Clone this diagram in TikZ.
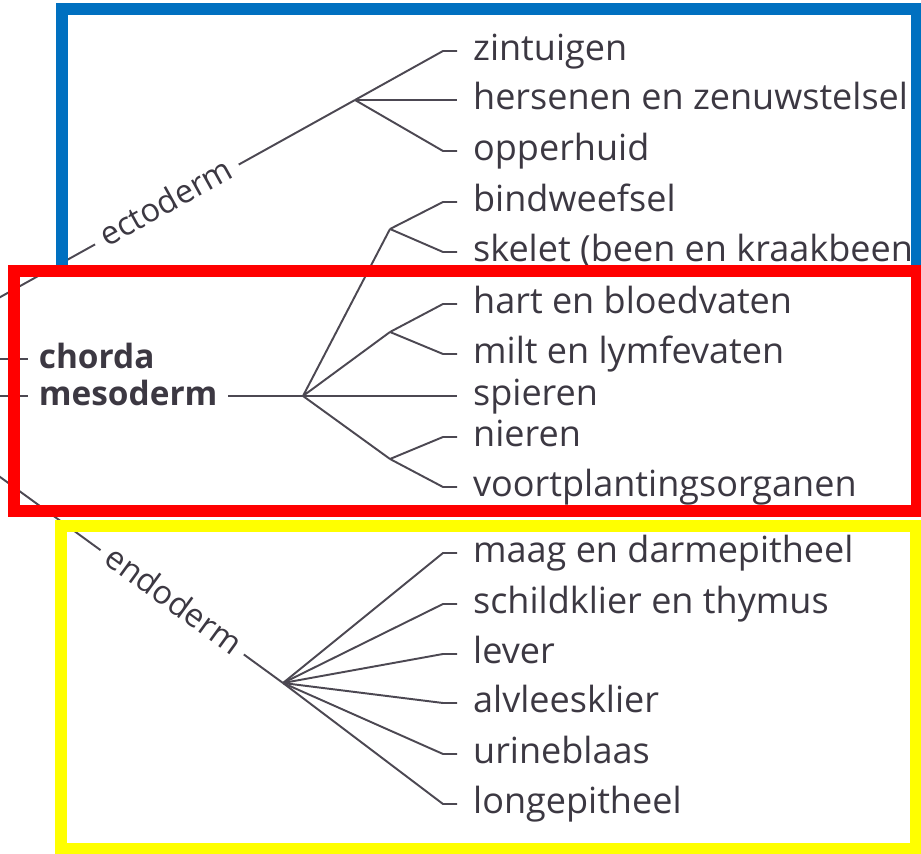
\documentclass[tikz,border=0pt]{standalone}
\usepackage{fontspec}
\setmainfont{Open Sans}
\definecolor{tak}{HTML}{4C4852}
\definecolor{inkt}{HTML}{3C3842}
\definecolor{blauw}{HTML}{0070C0}
\definecolor{rood}{HTML}{FF0000}
\definecolor{geel}{HTML}{FFFF00}
\tikzset{lf/.append style={anchor=west, inner xsep=9pt, inner ysep=0pt, text height=11pt, text depth=0pt, text=inkt, font=\fontsize{20.5}{24}\selectfont}}
\tikzset{vet/.append style={lf, inner xsep=6pt, text height=10.3pt, font=\fontsize{19}{23}\selectfont\bfseries}}
\tikzset{kiem/.append style={lf, anchor=center, inner xsep=5pt, text height=10pt, fill=white, font=\fontsize{18.5}{22}\selectfont}}
\tikzset{tk/.append style={draw=tak, line width=1.1pt}}
\tikzset{rand/.append style={line width=6.8pt}}

\begin{document}
\begin{tikzpicture}[x=0.02cm,y=-0.02cm]
                \useasboundingbox (0,0) rectangle (921,854);
                \clip (0,0) rectangle (921,854);
                % vertakkingspunten
                \coordinate (wortel) at (-140,375);
                \coordinate (chl) at (-20,359);
                \coordinate (mesl) at (-20,396);
                \coordinate (ect) at (355,100);
                \coordinate (mes) at (303,396);
                \coordinate (end) at (283,683);
                \coordinate (sk) at (390,229);
                \coordinate (hv) at (390,332);
                \coordinate (ni) at (390,459);
                % ectoderm
                \node[lf] (zin) at (457,51) {zintuigen};
                \node[lf] (her) at (457,100) {hersenen en zenuwstelsel};
                \node[lf] (opp) at (457,151) {opperhuid};
                % mesoderm
                \node[lf] (bin) at (457,202) {bindweefsel};
                \node[lf] (ske) at (457,252) {skelet (been en kraakbeen};
                \node[lf] (har) at (457,304) {hart en bloedvaten};
                \node[lf] (mil) at (457,354) {milt en lymfevaten};
                \node[lf] (spi) at (457,396) {spieren};
                \node[lf] (nie) at (457,437) {nieren};
                \node[lf] (voo) at (457,487) {voortplantingsorganen};
                % endoderm
                \node[lf] (maa) at (457,553) {maag en darmepitheel};
                \node[lf] (sch) at (457,604) {schildklier en thymus};
                \node[lf] (lev) at (457,654) {lever};
                \node[lf] (alv) at (457,703) {alvleesklier};
                \node[lf] (uri) at (457,754) {urineblaas};
                \node[lf] (lon) at (457,804) {longepitheel};
                % kiembladen links
                \node[vet] (cho) at (28,359) {chorda};
                \node[vet] (mel) at (28,396) {mesoderm};
                \draw[tk] (chl) -- (cho.west);
                \draw[tk] (mesl) -- (mel.west);
                \draw[tk] (mel.east) -- (mes);
                \draw[tk] (wortel) -- node[kiem, pos=0.62, sloped] (ectl) {ectoderm} (ect);
                \draw[tk] (wortel) -- node[kiem, pos=0.738, sloped] (endl) {endoderm} (end);
                % takken
                \draw[tk] (ect) -- ([xshift=-0.28cm]zin.west) -- (zin.west);
                \draw[tk] (ect) -- (her.west);
                \draw[tk] (ect) -- ([xshift=-0.28cm]opp.west) -- (opp.west);
                \draw[tk] (mes) -- (sk) (mes) -- (hv) (mes) -- (ni);
                \draw[tk] (mes) -- (spi.west);
                \draw[tk] (sk) -- ([xshift=-0.28cm]bin.west) -- (bin.west);
                \draw[tk] (sk) -- ([xshift=-0.28cm]ske.west) -- (ske.west);
                \draw[tk] (hv) -- ([xshift=-0.28cm]har.west) -- (har.west);
                \draw[tk] (hv) -- ([xshift=-0.28cm]mil.west) -- (mil.west);
                \draw[tk] (ni) -- ([xshift=-0.28cm]nie.west) -- (nie.west);
                \draw[tk] (ni) -- ([xshift=-0.28cm]voo.west) -- (voo.west);
                \draw[tk] (end) -- ([xshift=-0.28cm]maa.west) -- (maa.west);
                \draw[tk] (end) -- ([xshift=-0.28cm]sch.west) -- (sch.west);
                \draw[tk] (end) -- ([xshift=-0.28cm]lev.west) -- (lev.west);
                \draw[tk] (end) -- ([xshift=-0.28cm]alv.west) -- (alv.west);
                \draw[tk] (end) -- ([xshift=-0.28cm]uri.west) -- (uri.west);
                \draw[tk] (end) -- ([xshift=-0.28cm]lon.west) -- (lon.west);
                % kaders
                \draw[rand, draw=blauw] (62,9) rectangle (917,271);
                \draw[rand, draw=rood] (14,271) rectangle (917,511);
                \draw[rand, draw=geel] (61,526) rectangle (916,849);
            \end{tikzpicture}
\end{document}
